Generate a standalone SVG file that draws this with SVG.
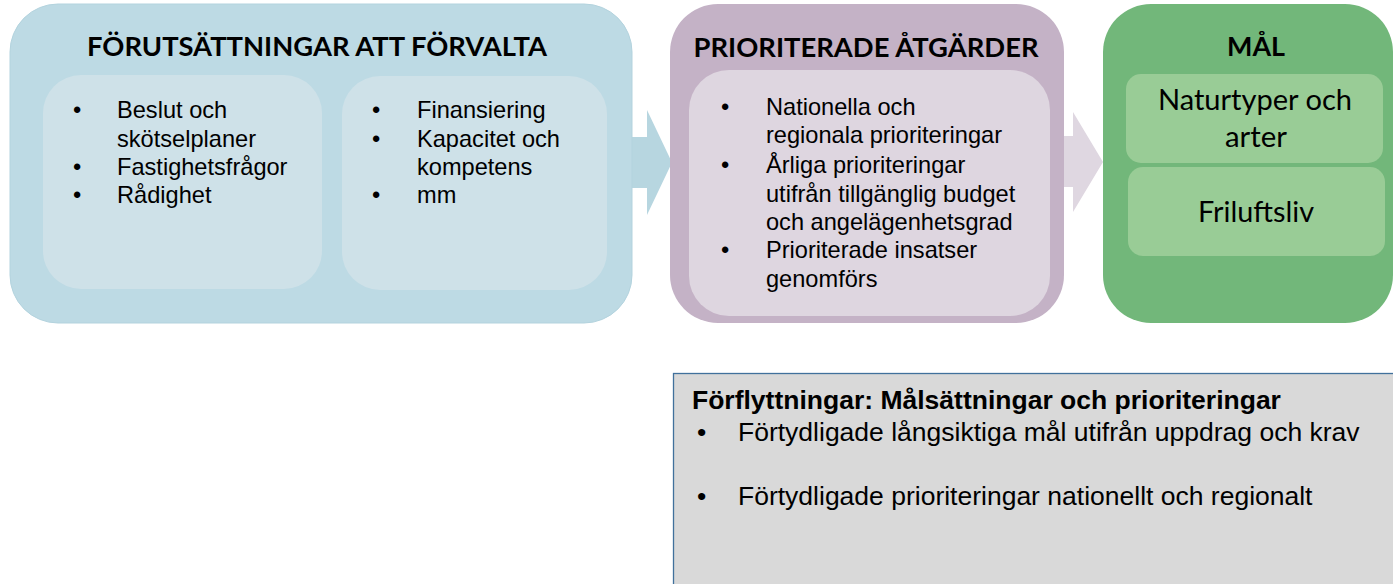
<svg xmlns="http://www.w3.org/2000/svg" width="1393" height="584" viewBox="0 0 1393 584">
<style>
.title{font-family:Lato,"Open Sans","Liberation Sans",sans-serif;font-weight:bold;font-size:26.5px;fill:#000;text-anchor:middle}
.goal{font-family:Lato,"Open Sans","Liberation Sans",sans-serif;font-size:28px;fill:#000;text-anchor:middle}
.body{font-family:"Liberation Sans",Arial,sans-serif;font-size:23.6px;fill:#000}
.gbody{font-family:"Liberation Sans",Arial,sans-serif;font-size:26.5px;fill:#000}
.gtitle{font-family:"Liberation Sans",Arial,sans-serif;font-size:26.5px;font-weight:bold;fill:#000}
</style>
<rect width="1393" height="584" fill="#ffffff"/>
<g id="connectors">
<polygon points="630,137 647,137 647,110 672,162.5 647,215 647,188 630,188" fill="#B7D6E0"/>
<polygon points="1062,136 1073,136 1073,112 1103,162 1073,212 1073,187 1062,187" fill="#DFD7E1"/>
</g>
<g id="forutsattningar">
<rect x="10" y="4" width="622" height="319" rx="48" fill="#BDDAE4" stroke="#B3D3DE" stroke-width="1"/>
<text class="title" x="317" y="56" textLength="460" lengthAdjust="spacingAndGlyphs">FÖRUTSÄTTNINGAR ATT FÖRVALTA</text>
<rect x="43" y="75" width="279" height="214" rx="38" fill="#CEE1E8"/>
<rect x="342" y="76" width="265" height="214" rx="38" fill="#CEE1E8"/>
<g class="body">
<text x="73" y="118">•</text><text x="117" y="118">Beslut och</text>
<text x="117" y="147">skötselplaner</text>
<text x="73" y="175">•</text><text x="117" y="175">Fastighetsfrågor</text>
<text x="73" y="203">•</text><text x="117" y="203">Rådighet</text>
<text x="372" y="118">•</text><text x="417" y="118">Finansiering</text>
<text x="372" y="147">•</text><text x="417" y="147">Kapacitet och</text>
<text x="417" y="175">kompetens</text>
<text x="372" y="203">•</text><text x="417" y="203">mm</text>
</g>
</g>
<g id="prioriterade">
<rect x="670" y="4" width="394" height="319" rx="48" fill="#C4B2C6"/>
<text class="title" x="866" y="57" textLength="345" lengthAdjust="spacingAndGlyphs">PRIORITERADE ÅTGÄRDER</text>
<rect x="689" y="70" width="361" height="246" rx="40" fill="#DED6E0"/>
<g class="body">
<text x="721" y="115">•</text><text x="766" y="115">Nationella och</text>
<text x="766" y="143">regionala prioriteringar</text>
<text x="721" y="173">•</text><text x="766" y="173">Årliga prioriteringar</text>
<text x="766" y="202">utifrån tillgänglig budget</text>
<text x="766" y="230">och angelägenhetsgrad</text>
<text x="721" y="258">•</text><text x="766" y="258">Prioriterade insatser</text>
<text x="766" y="287">genomförs</text>
</g>
</g>
<g id="mal">
<rect x="1103" y="4" width="290" height="319" rx="48" fill="#72B77A"/>
<text class="title" x="1256" y="56" textLength="58" lengthAdjust="spacingAndGlyphs">MÅL</text>
<rect x="1126" y="74" width="257" height="89" rx="15" fill="#99CC96"/>
<rect x="1128" y="167" width="257" height="89" rx="15" fill="#99CC96"/>
<text class="goal" x="1255" y="110" textLength="194" lengthAdjust="spacingAndGlyphs">Naturtyper och</text>
<text class="goal" x="1256" y="147" textLength="62" lengthAdjust="spacingAndGlyphs">arter</text>
<text class="goal" x="1256" y="222" textLength="116" lengthAdjust="spacingAndGlyphs">Friluftsliv</text>
</g>
<g id="forflyttningar">
<rect x="673.5" y="373.5" width="740" height="240" fill="#D9D9D9" stroke="#41719C" stroke-width="1.3"/>
<text class="gtitle" x="692" y="409">Förflyttningar: Målsättningar och prioriteringar</text>
<text class="gbody" x="697" y="441">•</text><text class="gbody" x="738" y="441">Förtydligade långsiktiga mål utifrån uppdrag och krav</text>
<text class="gbody" x="697" y="505">•</text><text class="gbody" x="738" y="505">Förtydligade prioriteringar nationellt och regionalt</text>
</g>
</svg>
